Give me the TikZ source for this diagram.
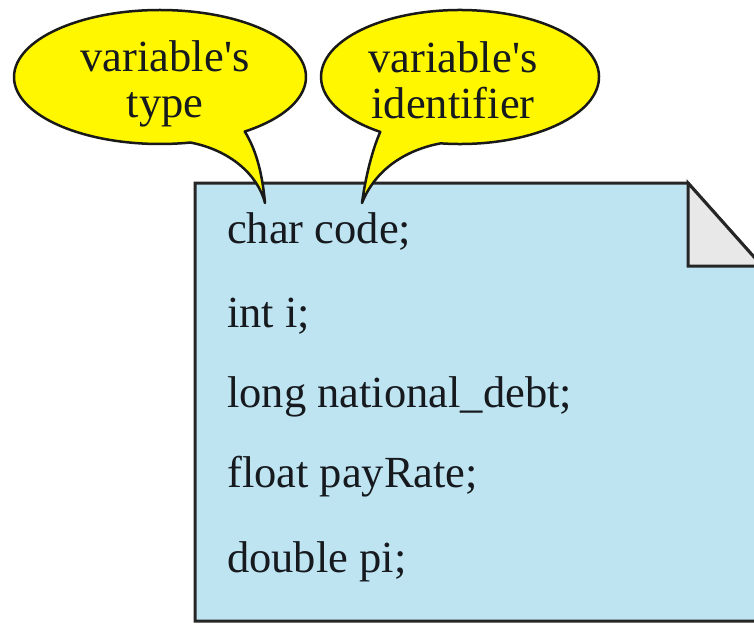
\documentclass[tikz,border=0pt]{standalone}
\usepackage{fontspec}
\setmainfont{Liberation Serif}
\usetikzlibrary{calc}
\begin{document}
\begin{tikzpicture}[x=1pt,y=-1pt,
  page/.style={draw=black!85, line width=3pt, fill=pagefill, line join=miter},
  foldcorner/.style={draw=black!85, line width=3pt, fill=foldfill, line join=miter},
  balloon/.style={draw=black!90, line width=2.5pt, fill=balloonfill, line join=round},
  codeline/.style={anchor=base west, inner sep=0pt, text=inkcol, font=\fontsize{44.5}{46}\selectfont},
  calloutlabel/.style={align=center, inner sep=0pt, text=inkcol, font=\fontsize{44.5}{46}\selectfont}
]
\definecolor{pagefill}{RGB}{190,228,242}
\definecolor{foldfill}{RGB}{232,232,232}
\definecolor{balloonfill}{RGB}{255,247,0}
\definecolor{inkcol}{RGB}{22,26,30}

\useasboundingbox (0,0) rectangle (754,623);
\fill[white] (0,0) rectangle (754,623);

\begin{scope}
\clip (0,0) rectangle (754,623);
% the page with a folded top-right corner
\draw[page] (195,183) -- (688,183) -- (762,266) -- (780,266) -- (780,621) -- (195,621) -- cycle;
\draw[foldcorner] (688,183) -- (762,266) -- (688,266) -- cycle;
\end{scope}

% declarations on the page
\node[codeline] (l1) at (227,243) {char code;};
\node[codeline] (l2) at (227,327) {int i;};
\node[codeline] (l3) at (227,407) {long national\_debt;};
\node[codeline] (l4) at (227,487) {float payRate;};
\node[codeline] (l5) at (227,572) {double pi;};

% callout for the type
\coordinate (c1) at (160,77);
\coordinate (tip1) at (265,203);
\draw[balloon] ($(c1)+(54.5:146 and 67)$)
  arc[start angle=54.5, end angle=-282, x radius=146, y radius=67]
  .. controls (230,150) and (258,175) .. (tip1)
  .. controls (262,170) and (255,148) .. cycle;
\node[calloutlabel] (t1) at (165,84) {variable\textquotesingle s\\type};

% callout for the identifier
\coordinate (c2) at (460,77);
\coordinate (tip2) at (362,203);
\draw[balloon] ($(c2)+(98:139 and 67)$)
  arc[start angle=98, end angle=-235, x radius=139, y radius=67]
  .. controls (372,150) and (365,180) .. (tip2)
  .. controls (375,170) and (405,150) .. cycle;
\node[calloutlabel] (t2) at (453,80) {variable\textquotesingle s\\identifier};
\end{tikzpicture}
\end{document}
